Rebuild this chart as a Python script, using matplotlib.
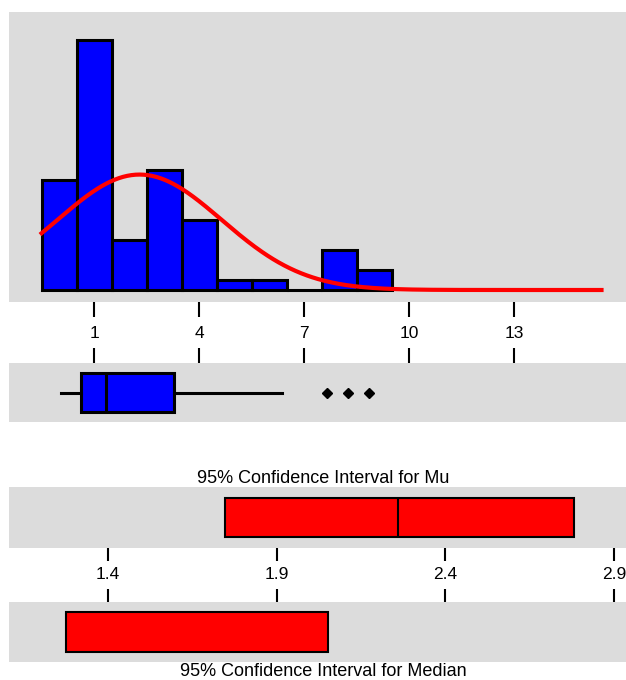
import numpy as np
import matplotlib.pyplot as plt
from matplotlib import font_manager

# histogram counts per unit bin
bin_centers = [0, 1, 2, 3, 4, 5, 6, 7, 8, 9]
counts = [11, 25, 5, 12, 7, 1, 1, 0, 4, 2]

# fitted normal curve
fit_mu = 2.3
fit_sigma = 2.35
n_obs = 68
curve_range = (-0.5, 15.5)

# boxplot summary
box_stats = dict(whislo=0.06, q1=0.63, med=1.34, q3=3.29, whishi=6.37,
                 fliers=[7.66, 8.26, 8.86])

hist_ticks = [1, 4, 7, 10, 13]
ci_ticks = [1.4, 1.9, 2.4, 2.9]

mu_ci = (1.747, 2.782)
mu_mean = 2.26
median_ci = (1.2755, 2.052)

# font: narrow sans if available
names = {f.name for f in font_manager.fontManager.ttflist}
if 'Liberation Sans Narrow' in names:
    fam, tick_fs, title_fs = 'Liberation Sans Narrow', 14.5, 15
else:
    fam, tick_fs, title_fs = 'Liberation Sans', 12.5, 13
plt.rcParams['font.family'] = [fam, 'DejaVu Sans']

gray = '#dcdcdc'
W, H = 626, 680
fig = plt.figure(figsize=(6.26, 6.80), dpi=100)

def panel(top, bottom):
    ax = fig.add_axes([9 / W, 1 - bottom / H, 617 / W, (bottom - top) / H])
    ax.set_facecolor(gray)
    for s in ax.spines.values():
        s.set_visible(False)
    ax.set_yticks([])
    return ax

# histogram
ax1 = panel(12, 302)
ax1.bar(bin_centers, counts, width=1, color='#0000ff', edgecolor='black', linewidth=2.2, zorder=2)
xs = np.linspace(curve_range[0], curve_range[1], 400)
pdf = n_obs / (fit_sigma * np.sqrt(2 * np.pi)) * np.exp(-0.5 * ((xs - fit_mu) / fit_sigma) ** 2)
ax1.plot(xs, pdf, color='red', linewidth=3.0, zorder=3)
ax1.set_xlim(-1.43, 16.2)
ax1.set_ylim(-1.2, 27.8)
ax1.set_xticks(hist_ticks)
ax1.tick_params(axis='x', direction='out', length=10.8, width=1.5, pad=6.5, labelsize=tick_fs)

# boxplot
ax2 = panel(363, 422)
ax2.bxp([box_stats], positions=[0.5], widths=0.66, orientation='horizontal', patch_artist=True,
        showcaps=False,
        boxprops=dict(facecolor='#0000ff', edgecolor='black', linewidth=2.2),
        medianprops=dict(color='black', linewidth=2.2),
        whiskerprops=dict(color='black', linewidth=2.2),
        flierprops=dict(marker='D', markerfacecolor='black', markeredgecolor='black', markersize=5))
ax2.set_xlim(-1.43, 16.2)
ax2.set_ylim(0, 1)
ax2.set_yticks([])
ax2.set_xticks(hist_ticks)
ax2.tick_params(axis='x', direction='out', length=10.8, width=1.5, top=True, bottom=False,
                labeltop=False, labelbottom=False)

# confidence interval for mu
ax3 = panel(487, 548)
ax3.barh([0.5], [mu_ci[1] - mu_ci[0]], left=[mu_ci[0]], height=0.65, color='red',
         edgecolor='black', linewidth=1.5)
ax3.vlines(mu_mean, 0.5 - 0.325, 0.5 + 0.325, color='black', linewidth=1.5)
ax3.set_xlim(1.1065, 2.9357)
ax3.set_ylim(0, 1)
ax3.set_xticks(ci_ticks)
ax3.set_xticklabels([f'{t:.1f}' for t in ci_ticks])
ax3.tick_params(axis='x', direction='out', length=9.4, width=1.5, pad=4, labelsize=tick_fs)
ax3.set_title('95% Confidence Interval for Mu', fontsize=title_fs, x=(323 - 9) / 617, pad=1)

# confidence interval for median
ax4 = panel(602, 662)
ax4.barh([0.5], [median_ci[1] - median_ci[0]], left=[median_ci[0]], height=0.68, color='red',
         edgecolor='black', linewidth=1.5)
ax4.set_xlim(1.1065, 2.9357)
ax4.set_ylim(0, 1)
ax4.set_xticks(ci_ticks)
ax4.tick_params(axis='x', direction='out', length=9.4, width=1.5, top=True, bottom=False,
                labeltop=False, labelbottom=False)
ax4.set_xlabel('95% Confidence Interval for Median', fontsize=title_fs, labelpad=0)
ax4.xaxis.set_label_coords((323 - 9) / 617, -0.02)
ax4.xaxis.label.set_va('top')

fig.savefig('out.png', dpi=100)
